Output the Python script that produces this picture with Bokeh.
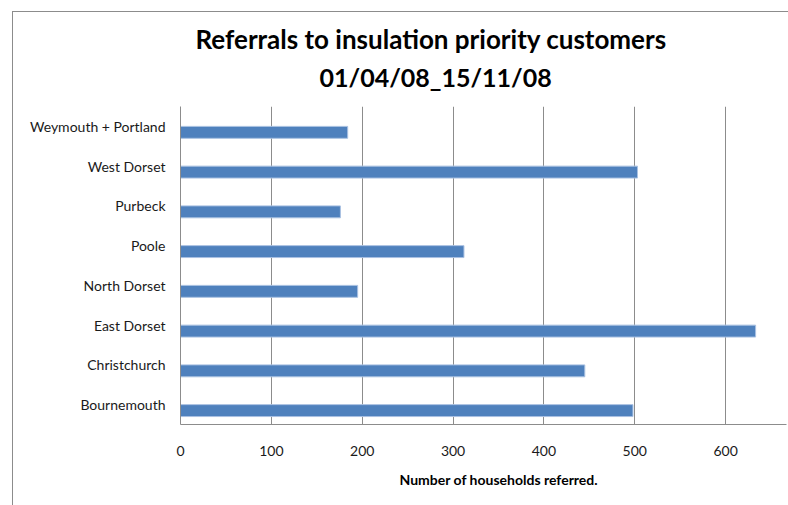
from bokeh.plotting import figure
from bokeh.models import FactorRange, Range1d, Title, FixedTicker
from bokeh.transform import dodge
from bokeh.embed import file_html
from bokeh.resources import INLINE

# Data (bottom to top as drawn)
areas = ["Bournemouth", "Christchurch", "East Dorset", "North Dorset",
         "Poole", "Purbeck", "West Dorset", "Weymouth + Portland"]
referrals = [498, 445, 633, 195, 312, 176, 503, 184]
x_ticks = [0, 100, 200, 300, 400, 500, 600]

title_line1 = "Referrals to insulation priority customers"
title_line2 = "01/04/08_15/11/08"
x_title = "Number of households referred."

FONT = "Lato"
GRID = "#8c8c8c"

p = figure(width=776, height=494, output_backend="svg", toolbar_location=None,
           y_range=FactorRange(factors=areas, range_padding=0),
           x_range=Range1d(0, 667),
           min_border_left=167, min_border_top=94, min_border_right=3,
           min_border_bottom=82)
p.margin = (11, 0, 0, 12)
p.styles = {"border-top": "1px solid #8c8c8c", "border-left": "1px solid #8c8c8c"}
p.outline_line_color = None

p.hbar(y=dodge("y", -0.15, range=p.y_range), right="x", height=0.3, left=0,
       source=dict(y=areas, x=referrals),
       fill_color="#4F81BD", line_color="#a9c1e2", line_width=1)

t2 = Title(text=title_line2, align="left", offset=139, text_font=FONT,
           text_font_size="25px", text_font_style="bold", text_color="#000000",
           standoff=29)
t1 = Title(text=title_line1, align="left", offset=15, text_font=FONT,
           text_font_size="26px", text_font_style="bold", text_color="#000000",
           standoff=-18)
p.add_layout(t2, "above")
p.add_layout(t1, "above")

xt = Title(text=x_title, align="left", offset=219, text_font=FONT,
           text_font_size="14px", text_font_style="bold", text_color="#000000",
           standoff=20)
p.add_layout(xt, "below")

p.xaxis.ticker = FixedTicker(ticks=x_ticks)
for ax in (p.xaxis[0], p.yaxis[0]):
    ax.axis_line_color = GRID
    ax.axis_line_width = 1
    ax.major_tick_line_color = None
    ax.minor_tick_line_color = None
    ax.major_tick_out = 0
    ax.major_tick_in = 0
    ax.major_label_text_font = FONT
    ax.major_label_text_font_size = "14px"
    ax.major_label_text_color = "#1a1a1a"
p.xaxis.major_label_standoff = 21
p.yaxis.major_label_standoff = 15

p.xgrid.grid_line_color = GRID
p.xgrid.grid_line_width = 1
p.ygrid.grid_line_color = None

open("out.html", "w").write(file_html(p, INLINE))
